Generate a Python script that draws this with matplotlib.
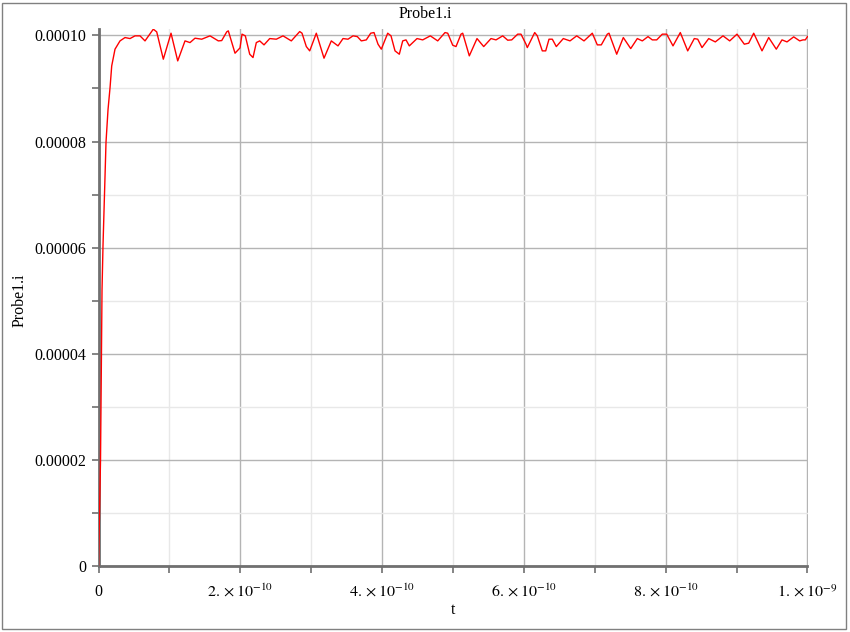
import numpy as np
import matplotlib.pyplot as plt
from matplotlib.patches import Rectangle
from matplotlib.ticker import FixedLocator, NullFormatter
plt.rcParams["font.family"] = "Liberation Serif"
plt.rcParams["mathtext.fontset"] = "stix"

# Probe current: time in ps, current in uA
t_ps = [0, 2.82, 4.94, 6.35, 10.58, 13.40, 16.22, 18.62, 23.27, 30.32,
        37.38, 44.43, 51.48, 58.53, 65.59, 77.29, 82.09, 91.40, 102.26, 111.71,
        122.0, 129.05, 136.11, 145.56, 157.27, 168.97, 173.77, 180.82, 183.08, 192.53,
        199.58, 202.40, 207.05, 213.26, 217.91, 222.57, 227.36, 233.43, 241.47, 250.78,
        260.23, 271.93, 283.78, 287.03, 293.10, 297.89, 307.20, 318.06, 328.35, 337.80,
        344.86, 351.91, 358.96, 365.03, 370.67, 377.72, 383.93, 388.58, 394.22, 398.88,
        407.90, 412.55, 418.20, 424.27, 429.06, 433.71, 438.37, 449.23, 457.27, 467.99,
        478.43, 488.72, 492.53, 499.58, 504.23, 511.28, 513.68, 522.99, 533.85, 543.30,
        553.60, 560.65, 570.10, 577.15, 582.79, 591.25, 595.91, 602.96, 604.79, 615.23,
        618.90, 625.95, 630.75, 635.40, 640.06, 645.70, 655.57, 665.02, 674.47, 684.77,
        696.47, 703.53, 709.17, 717.63, 720.03, 730.89, 740.20, 750.64, 759.95, 767.0,
        775.04, 781.10, 787.31, 795.21, 801.41, 810.30, 820.60, 831.03, 840.34, 845.14,
        851.20, 860.65, 869.96, 880.82, 890.27, 900.57, 910.86, 917.07, 924.12, 935.83,
        945.28, 955.99, 964.03, 971.08, 980.53, 988.99, 993.65, 996.89, 1000.0]
i_uA = [0, 20.0, 52.0, 60.5, 79.9, 86.0, 90.1, 94.25, 97.40, 98.96,
        99.59, 99.40, 99.91, 99.91, 98.96, 101.17, 100.66, 95.51, 100.41, 95.19,
        98.96, 98.64, 99.47, 99.28, 99.91, 98.96, 99.02, 100.66, 100.85, 96.64,
        97.64, 100.23, 99.91, 96.45, 95.82, 98.64, 98.96, 98.21, 99.40, 99.28,
        99.91, 98.96, 100.72, 100.41, 97.89, 97.08, 100.41, 95.70, 98.96, 98.02,
        99.40, 99.28, 99.91, 99.77, 98.96, 99.15, 100.41, 100.53, 98.34, 97.40,
        100.41, 99.91, 97.08, 96.45, 98.96, 99.15, 98.02, 99.40, 99.15, 99.91,
        98.96, 100.53, 100.41, 98.15, 97.89, 100.23, 100.41, 96.14, 99.40, 97.89,
        99.40, 99.15, 99.91, 99.09, 99.15, 100.23, 100.23, 98.34, 97.70, 100.53,
        99.91, 97.08, 97.08, 99.28, 99.28, 97.89, 99.40, 98.96, 99.91, 98.96,
        100.41, 98.21, 98.21, 100.23, 100.41, 96.45, 99.59, 97.51, 99.40, 98.96,
        99.77, 99.15, 99.15, 100.23, 100.23, 98.02, 100.53, 97.08, 99.40, 99.28,
        97.70, 99.40, 98.77, 99.91, 98.96, 100.23, 98.34, 98.53, 100.41, 97.08,
        99.59, 97.40, 99.15, 98.77, 99.72, 98.96, 99.15, 99.15, 99.77]

xticks = [0, 2e-10, 4e-10, 6e-10, 8e-10, 1e-9]
xtick_labels = ['0', r'$2.\times10^{-10}$', r'$4.\times10^{-10}$',
                r'$6.\times10^{-10}$', r'$8.\times10^{-10}$', r'$1.\times10^{-9}$']
xminor = [1e-10, 3e-10, 5e-10, 7e-10, 9e-10]
yticks = [0, 2e-5, 4e-5, 6e-5, 8e-5, 1e-4]
ytick_labels = ['0', '0.00002', '0.00004', '0.00006', '0.00008', '0.00010']
yminor = [1e-5, 3e-5, 5e-5, 7e-5, 9e-5]

t = np.array(t_ps) * 1e-12
i = np.array(i_uA) * 1e-6

fig = plt.figure(figsize=(8.5, 6.32), dpi=100)
ax = fig.add_axes([0.1159, 0.1044, 0.8341, 0.8497])
ax.plot(t, i, color='red', lw=1.0, zorder=3)
ax.set_xlim(0, 1e-9)
ax.set_ylim(0, 1.012e-4)

ax.xaxis.set_major_locator(FixedLocator(xticks))
ax.set_xticklabels(xtick_labels)
ax.xaxis.set_minor_locator(FixedLocator(xminor))
ax.yaxis.set_major_locator(FixedLocator(yticks))
ax.set_yticklabels(ytick_labels)
ax.yaxis.set_minor_locator(FixedLocator(yminor))
ax.xaxis.set_minor_formatter(NullFormatter())
ax.yaxis.set_minor_formatter(NullFormatter())

ax.grid(which='major', color='#b4b4b4', lw=1.0)
ax.grid(which='minor', color='#e8e8e8', lw=1.0)
ax.set_axisbelow(True)
ax.tick_params(which='both', direction='out', length=5, width=1.2,
               color='#707070', labelsize=11.5, pad=8)
ax.tick_params(axis='y', pad=4)

for s in ['top', 'right']:
    ax.spines[s].set_visible(False)
for s in ['left', 'bottom']:
    ax.spines[s].set_color('#707070')
    ax.spines[s].set_linewidth(2.0)

fig.text(0.5, 1 - 14 / 632, 'Probe1.i', ha='center', va='center', fontsize=11.5)
fig.text(20 / 850, 1 - 300 / 632, 'Probe1.i', ha='center', va='center',
         rotation=90, fontsize=11.5)
fig.text(453 / 850, 1 - 610 / 632, 't', ha='center', va='center', fontsize=11.5)

fig.patches.append(Rectangle((2 / 850, 3 / 632), 844 / 850, 626 / 632,
                             transform=fig.transFigure, fill=False,
                             edgecolor='#808080', lw=1.0))

fig.savefig('out.png', dpi=100)
